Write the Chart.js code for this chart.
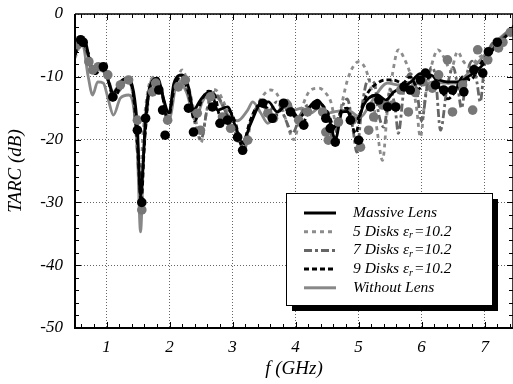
<!DOCTYPE html>
<html>
<head>
<meta charset="utf-8">
<title>TARC vs frequency</title>
<script src="https://cdn.jsdelivr.net/npm/chart.js"></script>
<style>
  html, body { margin: 0; padding: 0; background: #fff; }
</style>
</head>
<body>
<canvas id="tarcChart" width="513" height="384"></canvas>
<script>
// frequency (GHz) / TARC (dB)
const massiveF = [0.5,0.54,0.59,0.67,0.75,0.8,0.87,0.98,1.11,1.22,1.35,1.43,1.49,1.54,1.58,1.62,1.7,1.81,1.91,1.99,2.07,2.2,2.3,2.38,2.49,2.6,2.68,2.76,2.92,3.05,3.16,3.29,3.45,3.57,3.71,3.82,3.92,4.05,4.2,4.35,4.45,4.55,4.63,4.74,4.82,4.9,5.0,5.08,5.16,5.3,5.43,5.56,5.72,5.83,5.98,6.14,6.28,6.41,6.57,6.78,6.97,7.15,7.36,7.5];
const massiveDb = [-6.5,-4.6,-4.1,-4.6,-8.4,-8.9,-8.7,-9.2,-12.6,-10.8,-10.2,-12.4,-18,-29,-24,-16.4,-11.3,-10.2,-13.7,-15.8,-11,-9.7,-11.6,-15.3,-13.7,-12.6,-12.9,-15.3,-14.8,-18,-20.4,-17.4,-14.2,-14,-15.6,-14.8,-15,-16.5,-15,-13.7,-15,-17.4,-20,-15.6,-15.5,-16.9,-16.5,-14.5,-13.4,-12.9,-13.7,-12.4,-11.6,-10.8,-9.5,-9.7,-10.5,-10.8,-10.8,-9.7,-8.1,-5.4,-3.3,-1.5];

const disks5F = [0.5,0.6,0.7,0.8,0.9,1.0,1.1,1.2,1.32,1.42,1.48,1.53,1.58,1.66,1.76,1.87,1.98,2.08,2.2,2.3,2.4,2.5,2.58,2.68,2.78,2.9,3.05,3.18,3.3,3.45,3.6,3.72,3.85,3.97,4.1,4.24,4.37,4.47,4.56,4.66,4.74,4.84,5.0,5.12,5.22,5.3,5.38,5.46,5.54,5.63,5.72,5.83,5.92,5.98,6.06,6.14,6.26,6.36,6.46,6.57,6.66,6.76,6.9,7.05,7.2,7.35,7.5];
const disks5Db = [-7,-4.8,-6,-9,-8.8,-10,-12.5,-11,-10.3,-12.5,-20,-27,-19,-12,-10,-12,-16.5,-12,-8.9,-11.5,-16,-20.5,-16,-12,-12.5,-15,-19,-21.7,-17,-13.5,-12.1,-13,-17,-20,-15,-12.1,-11.8,-12.5,-14,-18,-14,-10,-7.6,-9,-13,-19,-23.3,-15,-9.4,-5.7,-7,-10,-15,-19.6,-13,-8.9,-5.7,-7,-9,-6,-7.5,-8.5,-7,-6,-4.5,-3,-1.5];

const disks7F = [0.5,0.6,0.72,0.82,0.93,1.03,1.12,1.22,1.32,1.42,1.49,1.54,1.59,1.68,1.76,1.87,1.98,2.08,2.17,2.3,2.42,2.5,2.6,2.7,2.82,2.95,3.08,3.18,3.3,3.45,3.58,3.7,3.85,3.95,4.08,4.2,4.35,4.5,4.6,4.7,4.82,4.92,4.97,5.05,5.15,5.25,5.32,5.4,5.5,5.58,5.63,5.72,5.82,5.92,6.0,6.08,6.15,6.22,6.3,6.4,6.5,6.58,6.63,6.72,6.8,6.88,6.93,7.0,7.1,7.25,7.4,7.5];
const disks7Db = [-6,-4.6,-7,-9.5,-9,-10.5,-13,-12,-10.5,-13,-22,-29,-22,-12.5,-10.5,-12.5,-16.5,-12,-10,-13,-18,-20,-15,-12.5,-14,-17,-19,-21.5,-16.5,-14.5,-15.5,-14,-17,-19,-16,-14.5,-15,-17,-20,-16,-13.5,-19,-22,-15,-10.5,-11,-16,-18,-12,-15,-19,-12,-9.5,-12,-17,-12,-8.5,-10,-18.5,-12,-8.5,-12,-15,-9.5,-7.5,-11,-14,-8,-5,-4,-2.5,-1.5];

const disks9F = [0.5,0.6,0.72,0.82,0.93,1.02,1.12,1.22,1.32,1.42,1.5,1.55,1.6,1.68,1.77,1.87,1.97,2.07,2.18,2.3,2.4,2.5,2.62,2.72,2.82,2.95,3.05,3.15,3.28,3.42,3.55,3.65,3.8,3.95,4.1,4.25,4.35,4.5,4.62,4.72,4.82,4.95,5.05,5.15,5.3,5.42,5.55,5.7,5.82,5.95,6.05,6.18,6.3,6.42,6.55,6.65,6.78,6.9,7.0,7.15,7.3,7.5];
const disks9Db = [-6.5,-4.5,-6.5,-9.5,-8.8,-10.5,-13.5,-11.5,-10.5,-12.5,-22,-30,-21,-12,-10.5,-12,-17,-12,-9.8,-12.5,-17,-14,-12.3,-13,-17,-15.5,-17.5,-21,-17,-14.5,-15,-16.5,-15,-16,-17.5,-14.5,-14,-15.5,-18,-15.5,-15,-19,-15,-12.5,-11,-10.5,-10.5,-11,-10,-12,-10.5,-10,-12,-13.5,-12,-10,-10.5,-8.5,-7,-5.5,-4,-1.5];

const withoutF = [0.5,0.62,0.71,0.78,0.86,0.95,1.03,1.11,1.22,1.35,1.43,1.49,1.54,1.59,1.66,1.75,1.88,1.99,2.13,2.27,2.41,2.52,2.64,2.78,2.92,3.08,3.24,3.32,3.45,3.56,3.72,3.87,3.97,4.1,4.24,4.37,4.5,4.65,4.82,5.03,5.19,5.46,5.65,5.83,6.0,6.2,6.35,6.52,6.68,6.83,7.0,7.15,7.3,7.5];
const withoutDb = [-5.7,-4.9,-10,-12.9,-10.8,-11,-13.7,-16.1,-13.4,-12.9,-14.8,-22,-34.7,-22,-13,-10.2,-12.5,-16.9,-10.5,-12.5,-16.9,-14,-12.5,-13.5,-16,-17,-15.3,-14,-15.8,-17.4,-15.6,-13.7,-15.3,-15,-15.8,-15,-15.8,-15.5,-15.3,-16.4,-14.2,-11,-11.3,-10.8,-11.2,-10.8,-11,-11,-10,-8.4,-6.5,-4.7,-3.3,-1.8];

// circle markers (black and grey)
const blackDotF = [0.59,0.63,0.95,1.1,1.49,1.56,1.62,1.83,1.89,1.93,2.3,2.38,2.68,2.8,2.92,3.08,3.16,3.48,3.63,3.81,3.92,4.13,4.32,4.48,4.55,4.63,4.87,5.0,5.19,5.32,5.46,5.59,5.72,5.82,5.98,6.06,6.22,6.35,6.49,6.67,6.83,6.97,7.06,7.2];
const blackDotDb = [-4.1,-4.5,-8.4,-13.2,-18.5,-30,-16.6,-12.1,-15.3,-19.3,-15,-18.8,-14.8,-17.4,-16.9,-19.6,-21.7,-14.2,-16.6,-14.2,-15.6,-17.7,-14.5,-16.6,-18.2,-20.4,-16.9,-20.1,-14.8,-13.7,-14.8,-14.8,-11.6,-12.1,-10.5,-9.4,-11.3,-12.1,-12.1,-12.4,-8.9,-9.4,-6,-4.5];
const greyDotF = [0.54,0.72,0.78,0.87,1.02,1.1,1.22,1.35,1.49,1.56,1.73,1.78,1.97,2.14,2.25,2.44,2.49,2.65,2.84,2.97,3.08,3.24,3.56,3.65,3.87,4.05,4.19,4.43,4.48,4.52,4.68,4.9,5.03,5.16,5.24,5.38,5.54,5.67,5.79,5.9,6.02,6.17,6.27,6.41,6.49,6.65,6.81,6.89,7.05,7.22,7.29,7.41];
const greyDotDb = [-4.9,-7.6,-8.9,-8.4,-9.7,-13.2,-11.3,-10.5,-16.9,-31.2,-12.4,-11,-16.9,-11.6,-10.5,-15.8,-18.5,-13.2,-16.4,-18.2,-19.7,-20.1,-15.8,-16.6,-14.5,-16.9,-15.6,-15.6,-18.8,-20.1,-17.2,-16.9,-21.2,-18.5,-16.4,-14.5,-14.5,-12.1,-15.6,-12.5,-10.8,-11.8,-9.7,-7.3,-15.6,-11.3,-15.3,-5.7,-7.3,-5.4,-4.5,-2.9];

const xTicks = [1, 2, 3, 4, 5, 6, 7];
const legendOrder = ['Massive Lens', '5 Disks εr=10.2', '7 Disks εr=10.2', '9 Disks εr=10.2', 'Without Lens'];

const pts = (fs, ds) => fs.map((f, i) => ({x: f, y: ds[i]}));
const SERIF = "'Liberation Serif', 'Times New Roman', serif";

function lineSet(label, fs, ds, color, dash) {
  return {
    label: label, data: pts(fs, ds), showLine: true,
    borderColor: color, borderWidth: 2.8, borderDash: dash,
    pointRadius: 0, fill: false, cubicInterpolationMode: 'monotone'
  };
}
function dotSet(label, fs, ds, color) {
  return {
    label: label, data: pts(fs, ds), showLine: false,
    pointRadius: 4.8, pointBackgroundColor: color, pointBorderWidth: 0
  };
}

// inward minor ticks + frame
const frameTicks = {
  id: 'frameTicks',
  afterDatasetsDraw(chart) {
    const {ctx, chartArea: a, scales: {x, y}} = chart;
    ctx.save();
    ctx.strokeStyle = '#000';
    ctx.lineWidth = 1;
    ctx.beginPath();
    for (let k = 3; k * 0.2 < x.max; k++) {
      const v = k * 0.2, px = Math.round(x.getPixelForValue(v)) + 0.5;
      const len = Math.abs(v - Math.round(v)) < 1e-6 ? 6 : 4;
      ctx.moveTo(px, a.bottom); ctx.lineTo(px, a.bottom - len);
      ctx.moveTo(px, a.top); ctx.lineTo(px, a.top + len);
    }
    for (let v = -48; v < 0; v += 2) {
      const py = Math.round(y.getPixelForValue(v)) + 0.5;
      const len = v % 10 === 0 ? 6 : 4;
      ctx.moveTo(a.left, py); ctx.lineTo(a.left + len, py);
      ctx.moveTo(a.right, py); ctx.lineTo(a.right - len, py);
    }
    ctx.stroke();
    ctx.lineWidth = 2;
    ctx.beginPath();
    ctx.moveTo(a.left, a.top); ctx.lineTo(a.left, a.bottom); ctx.lineTo(a.right, a.bottom);
    ctx.stroke();
    ctx.lineWidth = 1.5;
    ctx.beginPath();
    ctx.moveTo(a.left, a.top); ctx.lineTo(a.right, a.top); ctx.lineTo(a.right, a.bottom);
    ctx.stroke();
    ctx.restore();
  }
};

function drawLabel(ctx, text, x, y) {
  const parts = text.split('εr');
  ctx.font = 'italic 15.5px ' + SERIF;
  if (parts.length < 2) { ctx.fillText(text, x, y); return; }
  const head = parts[0] + 'ε';
  ctx.fillText(head, x, y);
  let cx = x + ctx.measureText(head).width;
  ctx.font = 'italic 10px ' + SERIF;
  ctx.fillText('r', cx, y + 4);
  cx += ctx.measureText('r').width + 1;
  ctx.font = 'italic 15.5px ' + SERIF;
  ctx.fillText(parts[1], cx, y);
}

const boxLegend = {
  id: 'boxLegend',
  afterDraw(chart) {
    const ctx = chart.ctx, a = chart.chartArea;
    const bx = a.right - 227, by = a.top + 179, bw = 206, bh = 112;
    ctx.save();
    ctx.fillStyle = '#000';
    ctx.fillRect(bx + 6, by + 6, bw, bh);
    ctx.fillStyle = '#fff';
    ctx.fillRect(bx, by, bw, bh);
    ctx.strokeStyle = '#000';
    ctx.lineWidth = 1;
    ctx.strokeRect(bx + 0.5, by + 0.5, bw, bh);
    ctx.textBaseline = 'middle';
    legendOrder.forEach((name, i) => {
      const ds = chart.data.datasets.find(d => d.label === name);
      const yy = by + 20 + i * 18.7;
      ctx.beginPath();
      ctx.setLineDash(ds.borderDash || []);
      ctx.strokeStyle = ds.borderColor;
      ctx.lineWidth = 3;
      ctx.moveTo(bx + 18, yy); ctx.lineTo(bx + 50, yy);
      ctx.stroke();
      ctx.setLineDash([]);
      ctx.fillStyle = '#000';
      drawLabel(ctx, name, bx + 67, yy);
    });
    ctx.restore();
  }
};

new Chart(document.getElementById('tarcChart'), {
  type: 'scatter',
  data: {
    datasets: [
      dotSet('measured black', blackDotF, blackDotDb, '#000'),
      dotSet('measured grey', greyDotF, greyDotDb, '#777'),
      lineSet('Massive Lens', massiveF, massiveDb, '#000', []),
      lineSet('9 Disks εr=10.2', disks9F, disks9Db, '#000', [5, 3]),
      lineSet('7 Disks εr=10.2', disks7F, disks7Db, '#666', [8, 3, 3, 3]),
      lineSet('5 Disks εr=10.2', disks5F, disks5Db, '#8c8c8c', [4, 4]),
      lineSet('Without Lens', withoutF, withoutDb, '#888', [])
    ]
  },
  options: {
    responsive: false,
    animation: false,
    events: [],
    layout: { autoPadding: false, padding: { top: 14, right: 0, left: 0, bottom: 0 } },
    plugins: { legend: { display: false }, tooltip: { enabled: false } },
    scales: {
      x: {
        type: 'linear', min: 0.5, max: 7.45,
        afterBuildTicks: s => { s.ticks = xTicks.map(v => ({value: v})); },
        afterFit: s => { s.height = 56; s.paddingLeft = 0; s.paddingRight = 0; },
        grid: { color: '#666', lineWidth: 1, drawTicks: false },
        border: { display: false, dash: [1, 2] },
        ticks: { color: '#000', padding: 9, font: { family: SERIF, style: 'italic', size: 17 } },
        title: { display: true, text: 'f (GHz)', color: '#000', padding: { top: 0, bottom: 4 },
                 font: { family: SERIF, style: 'italic', size: 19, lineHeight: 1.2 } }
      },
      y: {
        min: -50, max: 0,
        ticks: { stepSize: 10, color: '#000', padding: 12, callback: v => String(v),
                 font: { family: SERIF, style: 'italic', size: 17 } },
        afterFit: s => { s.width = 75; s.paddingTop = 0; s.paddingBottom = 0; },
        grid: { color: '#666', lineWidth: 1, drawTicks: false },
        border: { display: false, dash: [1, 2] },
        title: { display: true, text: 'TARC (dB)', color: '#000', padding: { top: 5, bottom: 0 },
                 font: { family: SERIF, style: 'italic', size: 19, lineHeight: 1.2 } }
      }
    }
  },
  plugins: [frameTicks, boxLegend]
});
</script>
</body>
</html>
